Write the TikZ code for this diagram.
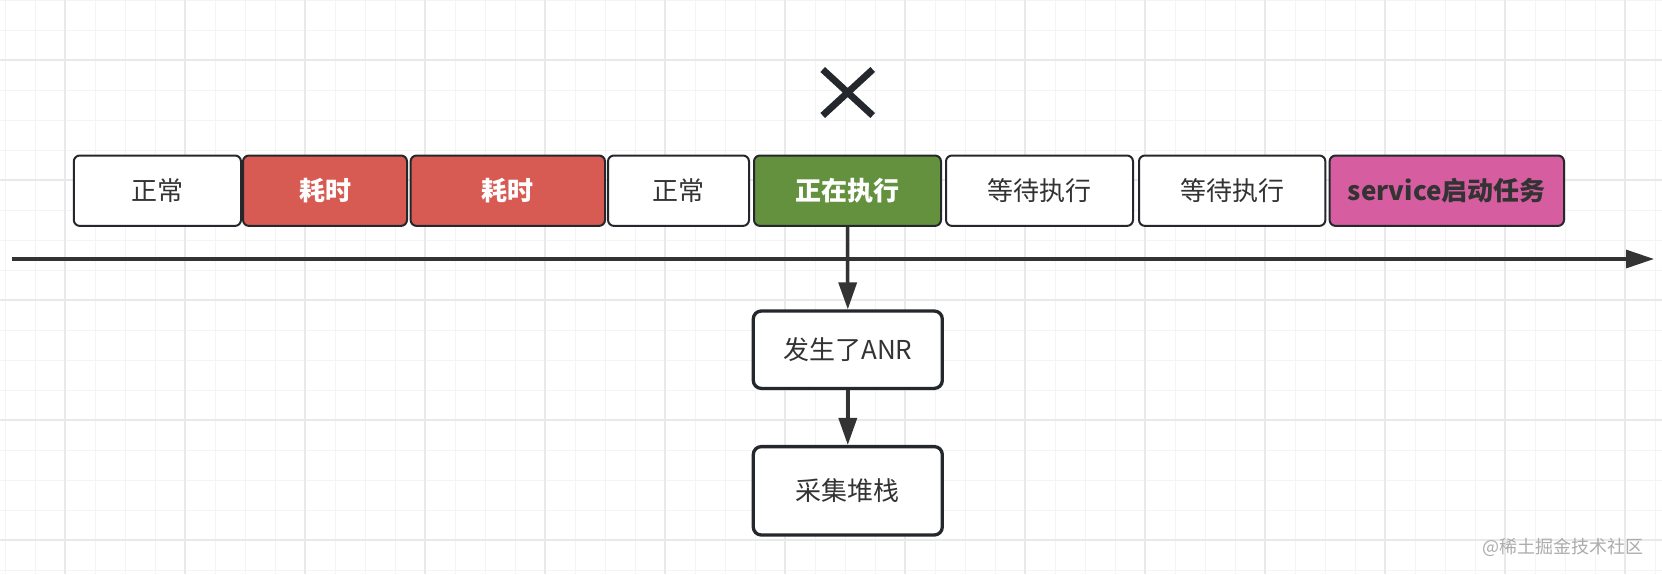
\documentclass[tikz,border=0pt]{standalone}
\usepackage{fontspec}
\setmainfont{Noto Sans CJK SC}
\usepackage{tikz}
\usetikzlibrary{arrows.meta, positioning}
\usepackage{xcolor}

\definecolor{lineDark}{RGB}{36,39,43}
\definecolor{arrowDark}{RGB}{51,51,51}
\definecolor{textDark}{RGB}{51,51,51}
\definecolor{slowRed}{RGB}{216,91,83}
\definecolor{runGreen}{RGB}{100,145,62}
\definecolor{servicePink}{RGB}{214,93,160}
\definecolor{gridMinor}{RGB}{244,244,244}
\definecolor{gridMajor}{RGB}{233,233,233}

\begin{document}
\begin{tikzpicture}[x=0.5pt, y=-0.5pt,
        task/.style={draw=lineDark, line width=1pt, rounded corners=3pt, fill=white, text=textDark,
            minimum height=35.2pt, inner sep=0pt, font=\fontsize{13pt}{15pt}\selectfont},
        hot/.style={task, fill=slowRed, text=white, font=\fontsize{13pt}{15pt}\selectfont\bfseries},
        running/.style={task, fill=runGreen, text=white, font=\fontsize{13pt}{15pt}\selectfont\bfseries},
        service/.style={task, fill=servicePink, font=\fontsize{13pt}{15pt}\selectfont\bfseries},
        stepbox/.style={draw=lineDark, line width=1.65pt, rounded corners=4pt, fill=white, text=textDark,
            minimum width=94.5pt, inner sep=0pt, font=\fontsize{13pt}{15pt}\selectfont},
        flow/.style={draw=arrowDark, line width=1.75pt, -{Triangle[length=13.5pt, width=9pt]}}]
        \useasboundingbox[fill=white] (0,0) rectangle (1662,574);

        % grid
        \foreach \gx in {5,35,...,1655}
            \draw[gridMinor, line width=0.5pt] (\gx,0) -- (\gx,574);
        \foreach \gy in {0,30,...,570}
            \draw[gridMinor, line width=0.5pt] (0,\gy) -- (1662,\gy);
        \foreach \gx in {65,185,...,1625}
            \draw[gridMajor, line width=0.7pt] (\gx,0) -- (\gx,574);
        \foreach \gy in {60,180,...,540}
            \draw[gridMajor, line width=0.7pt] (0,\gy) -- (1662,\gy);

        % time line
        \coordinate (axisL) at (11.5,259);
        \coordinate (axisR) at (1654,259);
        \draw[draw=arrowDark, line width=1.6pt, -{Triangle[length=14pt, width=9pt]}] (axisL) -- (axisR);

        \node[task, minimum width=83.6pt] (ok1) at (157.4,190.7) {正常};
        \node[hot, minimum width=82pt] (slow1) at (325,190.7) {耗时};
        \node[hot, minimum width=97.2pt] (slow2) at (507.8,190.7) {耗时};
        \node[task, minimum width=70.5pt] (ok2) at (678.5,190.7) {正常};
        \node[running, minimum width=93.5pt] (run) at (847.5,190.7) {正在执行};
        \node[task, minimum width=93.5pt] (wait1) at (1039.5,190.7) {等待执行};
        \node[task, minimum width=93.2pt] (wait2) at (1232.2,190.7) {等待执行};
        \node[service, minimum width=117.2pt] (svc) at (1446.8,190.7) {service启动任务};

        % cross over the running task
        \coordinate (cross) at (847.7,92.5);
        \draw[lineDark, line width=3.4pt] (cross) +(-25,-23) -- +(25,23);
        \draw[lineDark, line width=3.4pt] (cross) +(25,-23) -- +(-25,23);

        \node[stepbox, minimum height=38.7pt] (anr) at (847.8,349.7) {发生了ANR};
        \node[stepbox, minimum height=44.2pt] (stack) at (847.8,490.8) {采集堆栈};

        \draw[flow] (run.south) -- (anr.north);
        \draw[flow] (anr.south) -- (stack.north);

        \node[anchor=east, inner sep=0pt, text=gray!65, font=\fontsize{9pt}{10pt}\selectfont] (mark) at (1644,547) {@稀土掘金技术社区};
    \end{tikzpicture}
\end{document}
